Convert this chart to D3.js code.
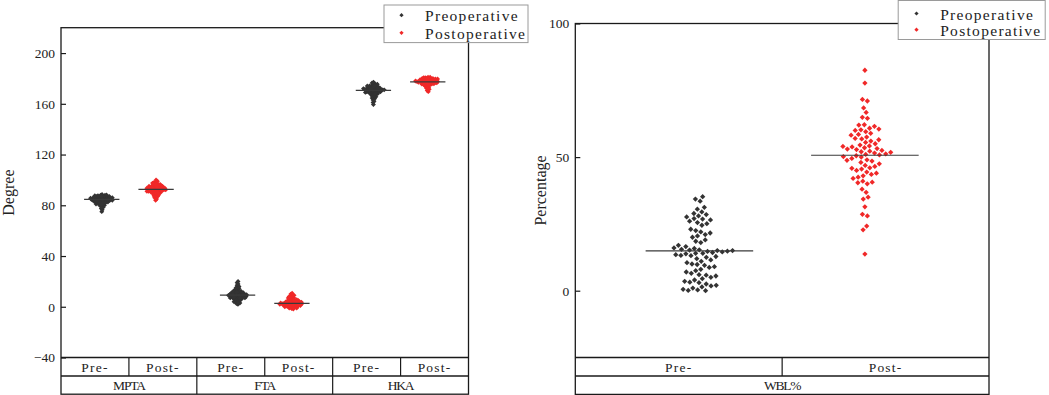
<!DOCTYPE html>
<html>
<head>
<meta charset="utf-8">
<script src="https://cdn.jsdelivr.net/npm/d3@7/dist/d3.min.js"></script>
<style>
  html, body { margin: 0; padding: 0; background: #fff; }
  svg { display: block; }
</style>
</head>
<body>
<svg id="chart" width="1049" height="395"></svg>
<script>
// ---------------- DATA ----------------
const leftMeasures = ["MPTA", "FTA", "HKA"];
const phases = ["Pre-", "Post-"];
const seriesNames = ["Preoperative", "Postoperative"];
const leftTicks = [-40, 0, 40, 80, 120, 160, 200];
const rightTicks = [0, 50, 100];
const rightMeasure = "WBL%";

const mptaPre = [75, 76.5, 77.5, 78.5, 79, 79.5, 80, 80.5, 81, 81, 81.5, 82, 82, 82.5, 82.5, 83, 83, 83, 83.5, 83.5, 84, 84, 84, 84, 84.5, 84.5, 84.5, 85, 85, 85, 85, 85, 85.5, 85.5, 85.5, 86, 86, 86, 86, 86.5, 86.5, 86.5, 87, 87, 87, 87.5, 87.5, 88, 88, 88.5, 84.2, 84.8, 85.2, 83.8, 86.2, 82.8, 87.2, 84.6, 85.8, 83.2, 81.8, 80.8, 86.8, 88.2, 84.4];
const mptaPost = [84, 85, 86, 86.5, 87, 87.5, 88, 88.5, 89, 89, 89.5, 90, 90, 90.5, 90.5, 91, 91, 91.5, 91.5, 92, 92, 92, 92.5, 92.5, 93, 93, 93, 93.5, 93.5, 94, 94, 94, 94.5, 94.5, 95, 95, 95.5, 95.5, 96, 96, 96.5, 97, 97, 97.5, 98, 98.5, 99, 100, 92.2, 92.8, 93.2, 91.8, 90.8, 94.8, 93.8, 89.8, 95.2, 96.2, 88.2, 92.4, 92.6, 91.2, 93.6, 94.2, 90.2];
const ftaPre = [2, 2.5, 3, 3.5, 4, 4, 4.5, 5, 5, 5.5, 5.5, 6, 6, 6.5, 6.5, 7, 7, 7, 7.5, 7.5, 8, 8, 8, 8.5, 8.5, 8.5, 9, 9, 9, 9, 9.5, 9.5, 9.5, 10, 10, 10, 10.5, 10.5, 11, 11, 11, 11.5, 12, 12, 12.5, 13, 13, 13.5, 14, 14.5, 15, 15.5, 16, 17, 18, 19, 20, 8.8, 9.2, 9.4, 8.6, 10.2, 7.8, 11.2, 6.8];
const ftaPost = [-1.8, -1.5, -1, -1, -0.5, -0.5, 0, 0, 0, 0.5, 0.5, 0.5, 1, 1, 1, 1.5, 1.5, 1.5, 2, 2, 2, 2, 2.5, 2.5, 2.5, 2.5, 3, 3, 3, 3, 3, 3.5, 3.5, 3.5, 4, 4, 4, 4.5, 4.5, 5, 5, 5.5, 5.5, 6, 6, 6.5, 7, 7, 7.5, 8, 8.5, 9, 9.5, 10, 10.7, 2.2, 2.8, 3.2, 2.6, 1.8, 3.8, 4.2, 0.8, 1.2, 5.2];
const hkaPre = [159.5, 161, 162, 163, 164, 164.5, 165, 165.5, 166, 166.5, 167, 167, 167.5, 168, 168, 168.5, 168.5, 169, 169, 169.5, 169.5, 170, 170, 170, 170.5, 170.5, 170.5, 171, 171, 171, 171, 171.5, 171.5, 171.5, 172, 172, 172, 172.5, 172.5, 172.5, 173, 173, 173, 173.5, 173.5, 174, 174, 174.5, 175, 175, 175.5, 176, 176.5, 177, 170.8, 171.2, 170.2, 169.8, 172.2, 168.8, 173.2, 171.8, 167.8, 174.2, 170.6];
const hkaPost = [169.6, 170.5, 171.5, 172, 172.5, 173, 173.5, 174, 174.5, 175, 175, 175.5, 175.5, 176, 176, 176, 176.5, 176.5, 176.5, 177, 177, 177, 177, 177.5, 177.5, 177.5, 177.5, 178, 178, 178, 178, 178.5, 178.5, 178.5, 179, 179, 179, 179, 179.5, 179.5, 179.5, 180, 180, 180, 180.5, 180.5, 181, 181, 177.2, 177.8, 178.2, 176.8, 177.4, 178.8, 176.2, 179.2, 175.8, 180.2, 174.8, 177.6];
const wblPre = [35.2, 34.3, 33.5, 31.2, 30.5, 29.5, 28.9, 28.5, 28, 27.6, 27, 26.8, 26.5, 26, 25.5, 25.1, 24.5, 23, 22.5, 22, 21.6, 21, 20.5, 20, 19, 18.5, 18, 17, 16.5, 16, 15.8, 15.5, 15.3, 15.2, 15, 15, 14.8, 14.7, 14.5, 14.3, 14, 14, 13.8, 13.5, 13.2, 13.1, 12.8, 12.5, 12, 11.5, 11, 10.5, 10, 9.8, 9.5, 9, 8.7, 8, 7.5, 7, 6.5, 6, 5.8, 5.5, 5, 4.5, 4, 3.5, 3.2, 3, 2.5, 2, 1.8, 1.4, 1, 0.5, 0.3, 0.1, 0];
const wblPost = [82.5, 77.7, 71.6, 71, 68.4, 66.7, 64.9, 64.5, 62.1, 62, 61.5, 60.8, 60.5, 60.2, 60, 59.5, 58.9, 58.5, 58.2, 57.5, 57, 56.8, 56.5, 56, 55.5, 55, 54.5, 54.2, 54, 53.8, 53.5, 53.2, 53, 52.8, 52.5, 52.2, 52, 51.8, 51.5, 51.2, 51, 50.8, 50.5, 50.2, 50, 49.5, 49, 48.8, 48.5, 48, 47.5, 46.9, 46.5, 46, 45.8, 45.5, 45, 44.4, 44, 43.5, 43, 42.5, 42, 41, 40.6, 40.4, 40, 38, 36.8, 35, 34.3, 31.4, 28.6, 28, 24.2, 22.8, 13.7];

// medians (horizontal lines)
const leftMedians = [[84.7, 92.6], [9.1, 2.7], [170.6, 177.3]];
const wblMedians = [14.9, 50.7];

const leftValues = [[mptaPre, mptaPost], [ftaPre, ftaPost], [hkaPre, hkaPost]];
const wblValues = [wblPre, wblPost];

// ---------------- STYLE ----------------
const colors = ["#333333", "#f02828"];
const axisColor = "#1a1a1a";
const labelFont = "'Liberation Serif', serif";
const serifFont = "'Liberation Serif', serif";

const svg = d3.select("#chart");
const diamond = d3.symbol().type(d3.symbolSquare);

function layoutPoints(values, cx, yScale, radius, strength) {
  const nodes = values.map(v => ({ v: v, x: cx, y: yScale(v), fy: yScale(v) }));
  const sim = d3.forceSimulation(nodes)
    .force("x", d3.forceX(cx).strength(strength))
    .force("collide", d3.forceCollide(radius).iterations(2))
    .stop();
  for (let i = 0; i < 300; i++) sim.tick();
  return nodes;
}

function drawPanel(cfg) {
  const g = svg.append("g");
  const cellKeys = [];
  cfg.groups.forEach(gr => phases.forEach(p => cellKeys.push(gr + "|" + p)));
  const x = d3.scaleBand().domain(cellKeys).range([cfg.x0, cfg.x1]).padding(0);
  const y = d3.scaleLinear().domain(cfg.domain).range([cfg.yBot, cfg.yTop]);
  const bw = x.bandwidth();

  // points
  cfg.groups.forEach((gr, gi) => {
    phases.forEach((p, pi) => {
      const key = gr + "|" + p;
      const cx = x(key) + bw / 2 + (pi === 0 ? 0.1 : -0.1) * bw;
      const nodes = layoutPoints(cfg.values[gi][pi], cx, y, cfg.radius, cfg.strength);
      g.append("g").selectAll("path").data(nodes).enter().append("path")
        .attr("d", diamond.size(cfg.markerSize)())
        .attr("transform", d => `translate(${d.x},${d.y}) rotate(45)`)
        .attr("fill", colors[pi]);
      const m = cfg.medians[gi][pi];
      g.append("line")
        .attr("x1", cx - 0.26 * bw).attr("x2", cx + 0.26 * bw)
        .attr("y1", y(m)).attr("y2", y(m))
        .attr("stroke", "#3a3a3a").attr("stroke-width", 1.2);
    });
  });

  // frame
  g.append("rect")
    .attr("x", cfg.x0).attr("y", cfg.yTop)
    .attr("width", cfg.x1 - cfg.x0).attr("height", cfg.rowBot2 - cfg.yTop)
    .attr("fill", "none").attr("stroke", axisColor).attr("stroke-width", 1.3);

  // y axis
  const axis = d3.axisLeft(y).tickValues(cfg.ticks).tickSizeInner(-5).tickSizeOuter(0).tickPadding(6);
  const ag = g.append("g").attr("transform", `translate(${cfg.x0},0)`).call(axis);
  ag.select(".domain").remove();
  ag.selectAll(".tick line").attr("stroke", axisColor).attr("stroke-width", 1.2);
  ag.selectAll(".tick text").attr("font-family", serifFont).attr("font-size", 13.5).attr("fill", "#222");

  // category table
  [cfg.yBot, cfg.rowBot1].forEach(yy => {
    g.append("line").attr("x1", cfg.x0).attr("x2", cfg.x1).attr("y1", yy).attr("y2", yy)
      .attr("stroke", axisColor).attr("stroke-width", 1.3);
  });
  cellKeys.forEach((k, i) => {
    if (i > 0) {
      const isGroupEdge = i % 2 === 0;
      g.append("line").attr("x1", x(k)).attr("x2", x(k))
        .attr("y1", cfg.yBot).attr("y2", isGroupEdge ? cfg.rowBot2 : cfg.rowBot1)
        .attr("stroke", axisColor).attr("stroke-width", 1.2);
    }
    g.append("text").attr("x", x(k) + bw / 2).attr("y", (cfg.yBot + cfg.rowBot1) / 2 + 0.5)
      .attr("text-anchor", "middle").attr("dominant-baseline", "central")
      .attr("font-family", labelFont).attr("font-size", 13.5).attr("letter-spacing", 1.2)
      .attr("fill", "#222").text(k.split("|")[1]);
  });
  cfg.groups.forEach(gr => {
    const cx = x(gr + "|" + phases[0]) + bw;
    g.append("text").attr("x", cx).attr("y", (cfg.rowBot1 + cfg.rowBot2) / 2 + 0.5)
      .attr("text-anchor", "middle").attr("dominant-baseline", "central")
      .attr("font-family", labelFont).attr("font-size", 13.5).attr("letter-spacing", -1.2)
      .attr("fill", "#222").text(gr);
  });

  // axis title
  g.append("text")
    .attr("transform", `translate(${cfg.titleX},${(cfg.yTop + cfg.yBot) / 2}) rotate(-90)`)
    .attr("text-anchor", "middle").attr("dominant-baseline", "central")
    .attr("font-family", serifFont).attr("font-size", 16).attr("fill", "#222")
    .text(cfg.title);

  // legend
  const lg = g.append("g");
  lg.append("rect").attr("x", cfg.leg.x).attr("y", cfg.leg.y)
    .attr("width", cfg.leg.w).attr("height", cfg.leg.h)
    .attr("fill", "#fff").attr("stroke", "#9a9a9a").attr("stroke-width", 1);
  seriesNames.forEach((s, i) => {
    const yy = cfg.leg.y + cfg.leg.row0 + i * cfg.leg.dy;
    lg.append("path").attr("d", diamond.size(9)())
      .attr("transform", `translate(${cfg.leg.x + cfg.leg.mx},${yy}) rotate(45)`)
      .attr("fill", colors[i]);
    lg.append("text").attr("x", cfg.leg.x + cfg.leg.tx).attr("y", yy + 0.5)
      .attr("dominant-baseline", "central")
      .attr("font-family", labelFont).attr("font-size", 15.5).attr("letter-spacing", 1.3)
      .attr("fill", "#222").text(s);
  });
}

drawPanel({
  groups: leftMeasures, values: leftValues, medians: leftMedians,
  x0: 61, x1: 468.5, yTop: 27.7, yBot: 357.5, rowBot1: 376, rowBot2: 394.2,
  domain: [-40, 220], ticks: leftTicks, radius: 0.8, strength: 0.18, markerSize: 12,
  title: "Degree", titleX: 8,
  leg: { x: 384, y: 5, w: 144, h: 37.6, row0: 10.2, dy: 17.6, mx: 17.5, tx: 41 }
});

drawPanel({
  groups: [rightMeasure], values: [wblValues], medians: [wblMedians],
  x0: 575.3, x1: 989, yTop: 23.5, yBot: 357.5, rowBot1: 376, rowBot2: 394.4,
  domain: [-25, 100], ticks: rightTicks, radius: 2.6, strength: 0.25, markerSize: 14,
  title: "Percentage", titleX: 540,
  leg: { x: 898.2, y: 0.5, w: 147, h: 39, row0: 13, dy: 16.2, mx: 18.3, tx: 42 }
});
</script>
</body>
</html>
